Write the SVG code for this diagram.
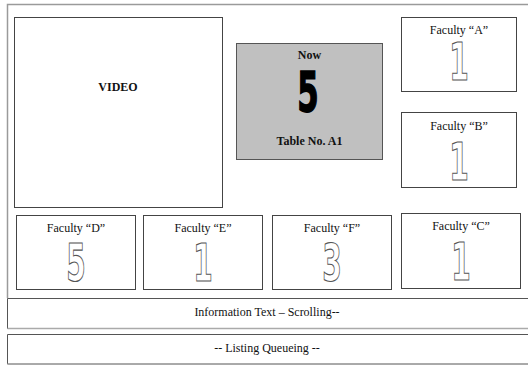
<svg xmlns="http://www.w3.org/2000/svg" width="528" height="365" viewBox="0 0 528 365">
<style>
.frame{fill:none;stroke:#9a9a9a;stroke-width:1.5}
.box{fill:#fff;stroke:#444;stroke-width:1}
.lbl{font-family:"Liberation Serif",serif;font-size:12px;fill:#111;text-anchor:middle}
.bold{font-weight:bold}
.big{font-family:"DejaVu Sans",sans-serif;font-weight:bold;font-size:53px;text-anchor:middle;fill:#000;stroke:#000;stroke-width:1.6}
.out{font-family:"DejaVu Sans",sans-serif;font-weight:bold;font-size:51px;text-anchor:middle;fill:#fff;stroke:#555;stroke-width:1.2}
</style>
<rect width="528" height="365" fill="#fff"/>
<g id="frame">
<path class="frame" d="M528 4.5 H7.5 V298"/>
</g>
<g id="video">
<rect class="box" x="14.5" y="17.5" width="208" height="190"/>
<text class="lbl bold" x="118" y="91">VIDEO</text>
</g>
<g id="now">
<rect x="236.5" y="43.5" width="146" height="116" fill="#c0c0c0" stroke="#555" stroke-width="1"/>
<text class="lbl bold" x="309.5" y="59">Now</text>
<text class="big" transform="translate(308 111) scale(0.58 1.03)" x="0" y="0">5</text>
<text class="lbl bold" x="309.5" y="145">Table No. A1</text>
</g>
<g id="faculty-a">
<rect class="box" x="401.5" y="17.5" width="115" height="74"/>
<text class="lbl" x="459" y="34">Faculty “A”</text>
<text class="out" transform="translate(459 80) scale(0.55 1)" x="0" y="0">1</text>
</g>
<g id="faculty-b">
<rect class="box" x="401.5" y="112.5" width="115" height="75"/>
<text class="lbl" x="459" y="130">Faculty “B”</text>
<text class="out" transform="translate(459 180) scale(0.55 1)" x="0" y="0">1</text>
</g>
<g id="faculty-c">
<rect class="box" x="401.5" y="213.5" width="119" height="75" stroke="#888"/>
<text class="lbl" x="461" y="230">Faculty “C”</text>
<text class="out" transform="translate(461 280) scale(0.55 1)" x="0" y="0">1</text>
</g>
<g id="faculty-d">
<rect class="box" x="16.5" y="215.5" width="119" height="74"/>
<text class="lbl" x="76" y="232">Faculty “D”</text>
<text class="out" transform="translate(76 281) scale(0.55 1)" x="0" y="0">5</text>
</g>
<g id="faculty-e">
<rect class="box" x="143.5" y="215.5" width="119" height="74"/>
<text class="lbl" x="203" y="232">Faculty “E”</text>
<text class="out" transform="translate(203 281) scale(0.55 1)" x="0" y="0">1</text>
</g>
<g id="faculty-f">
<rect class="box" x="272.5" y="215.5" width="119" height="74"/>
<text class="lbl" x="332" y="232">Faculty “F”</text>
<text class="out" transform="translate(332 281) scale(0.55 1)" x="0" y="0">3</text>
</g>
<g id="info">
<path d="M528 298.5 H7.5 V328.5 H528" fill="none" stroke="#555" stroke-width="1"/>
<path d="M7.5 328.5 H528" fill="none" stroke="#aaa" stroke-width="1.5"/>
<text class="lbl" x="267" y="316">Information Text – Scrolling--</text>
</g>
<g id="listing">
<path d="M528 334.5 H7.5 V364 H528" fill="none" stroke="#555" stroke-width="1"/>
<path d="M7.5 364 H528" fill="none" stroke="#aaa" stroke-width="1.5"/>
<text class="lbl" x="267" y="352">-- Listing Queueing --</text>
</g>
<g id="connectors"></g>
</svg>
